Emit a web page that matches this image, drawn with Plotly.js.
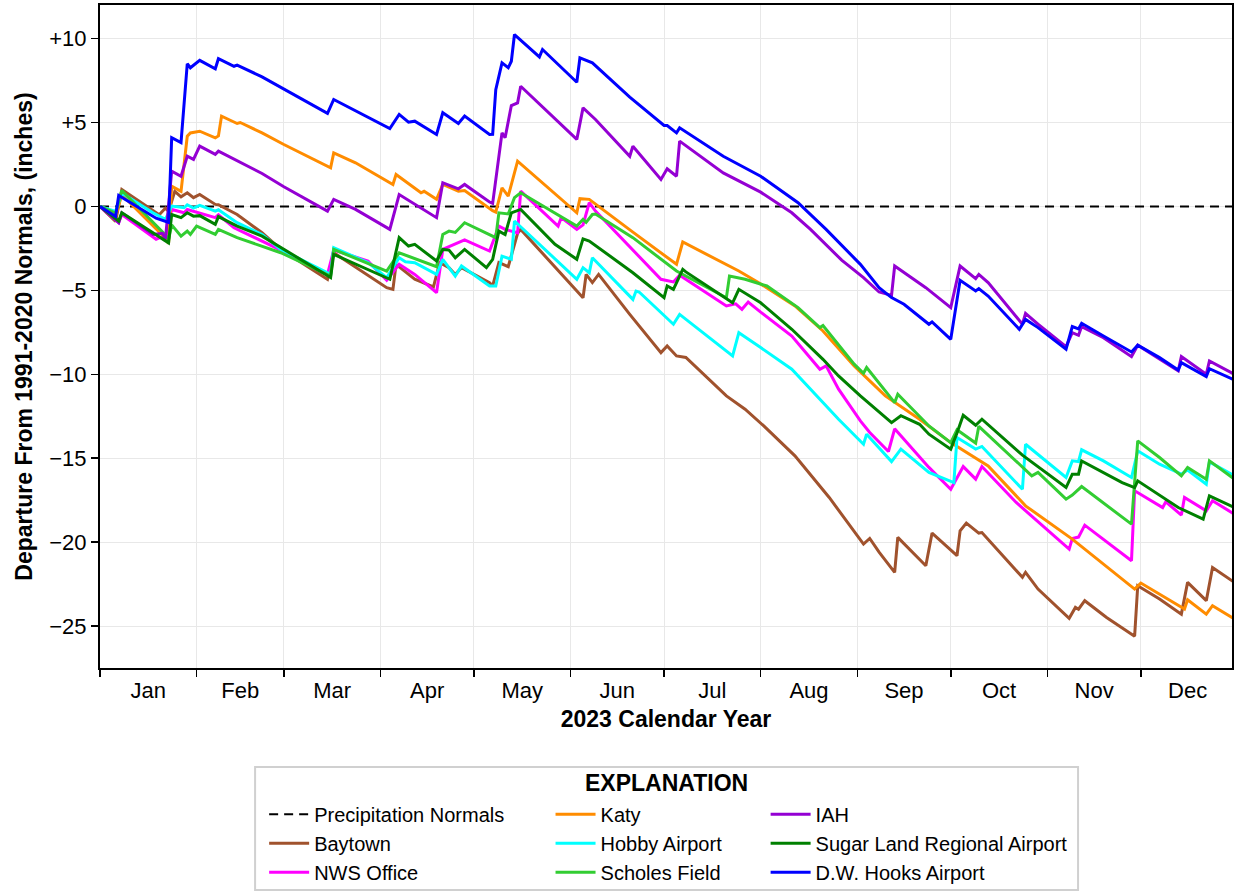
<!DOCTYPE html>
<html>
<head>
<meta charset="utf-8">
<script src="https://cdn.plot.ly/plotly-3.0.1.min.js"></script>
<style>html,body{margin:0;padding:0;background:#fff;}#chart{width:1237px;height:893px;}</style>
</head>
<body>
<div id="chart"></div>
<script>
// Day-of-year offsets (0 = Jan 1, 2023) and departures (inches)
const normalsDays = [0, 364];
const normalsVals = [0, 0];

const baytownDays = [0,5,7,19,21,22,24,26,28,30,32,37,38,44,52,58,73,75,92,94,95,101,107,109,112,114,116,125,126,128,131,134,135,155,156,158,160,170,180,182,185,188,201,207,213,223,234,245,247,250,255,256,265,267,275,276,278,282,283,296,297,301,311,313,314,316,323,332,333,340,347,349,355,357,364];
const baytownVals = [0,-0.9,1.0,-0.5,-0.1,-0.3,0.9,0.57,0.81,0.52,0.71,0.12,0.1,-0.48,-1.57,-2.56,-4.34,-2.76,-4.84,-4.94,-3.45,-4.34,-4.8,-3.35,-3.65,-4.05,-3.65,-4.54,-4.74,-3.35,-3.59,-1.6,-1.37,-5.44,-4.05,-4.54,-4.05,-6.43,-8.71,-8.31,-8.91,-9.0,-11.29,-12.08,-13.08,-14.86,-17.34,-20.12,-19.78,-20.6,-21.8,-19.72,-21.41,-19.46,-20.81,-19.33,-18.87,-19.46,-19.43,-22.1,-21.8,-22.8,-24.54,-23.89,-24.0,-23.49,-24.49,-25.61,-22.6,-23.39,-24.29,-22.4,-23.49,-21.51,-22.4];

const nwsDays = [0,6,7,18,20,21,23,27,28,37,38,43,58,73,75,86,92,96,101,108,110,117,125,128,130,134,135,147,148,153,155,157,159,170,180,184,186,201,204,206,208,212,222,231,233,237,244,247,253,255,266,273,277,281,283,294,311,312,314,316,331,332,341,342,347,348,355,357,364];
const nwsVals = [0,-0.97,-0.48,-1.96,-1.8,-2.06,-0.18,-0.38,-0.18,-0.67,-0.5,-1.27,-2.6,-4.05,-2.6,-3.25,-4.4,-3.45,-4.05,-5.14,-2.56,-2.0,-2.66,-1.17,-1.37,-1.57,0.91,-1.17,-0.67,-1.37,-1.1,0.22,-0.28,-2.4,-4.34,-4.5,-4.1,-5.93,-5.8,-6.13,-5.7,-6.3,-7.72,-9.7,-9.5,-10.89,-12.78,-13.47,-14.6,-13.25,-15.55,-16.85,-15.5,-16.25,-15.5,-17.64,-20.42,-19.78,-19.7,-18.99,-21.11,-16.94,-17.94,-17.6,-18.39,-17.34,-18.14,-17.54,-18.33];

const katyDays = [0,5,7,21,22,23,26,28,29,32,37,38,39,44,45,52,59,74,75,82,94,95,103,104,108,110,115,117,126,127,129,131,134,153,154,157,171,185,187,205,211,223,232,242,252,263,273,285,297,312,332,334,348,349,355,357,364];
const katyVals = [0,-0.6,0.7,-1.9,-2.2,1.2,0.9,4.18,4.38,4.48,4.09,4.2,5.38,4.94,5.0,4.38,3.69,2.3,3.19,2.6,1.31,1.9,0.81,0.9,0.42,1.31,0.9,0.95,-0.25,-0.34,1.11,0.61,2.7,-0.38,0.46,0.42,-1.53,-3.45,-2.12,-3.85,-4.5,-5.93,-7.42,-9.5,-11.29,-12.68,-14.07,-15.46,-17.84,-19.82,-22.8,-22.44,-23.99,-23.43,-24.29,-23.79,-24.58];

const hobbyDays = [0,5,7,17,21,23,27,28,30,32,37,38,44,52,58,74,75,86,92,96,98,101,108,110,114,116,125,127,129,132,133,153,155,157,158,171,172,173,184,186,203,205,212,222,237,245,246,250,254,257,266,274,275,281,283,296,297,310,312,314,315,322,331,333,340,347,349,355,356,364];
const hobbyVals = [0,-0.3,0.8,-0.38,-0.77,0.02,-0.08,0.1,-0.1,0.06,-0.28,-0.2,-0.97,-1.67,-2.56,-4.05,-2.46,-3.35,-4.24,-3.06,-3.3,-3.35,-4.05,-3.15,-4.15,-3.55,-4.74,-4.74,-2.96,-3.15,-0.87,-4.34,-3.65,-3.95,-3.06,-5.54,-5.04,-5.1,-7.02,-6.43,-8.91,-7.52,-8.41,-9.7,-12.68,-14.17,-13.57,-14.4,-15.2,-14.46,-15.85,-16.45,-13.77,-14.46,-14.3,-16.85,-14.17,-16.15,-15.16,-15.2,-14.5,-15.16,-16.15,-14.56,-15.36,-15.95,-15.7,-16.55,-15.22,-16.05];

const scholesDays = [0,5,7,21,22,23,26,28,29,31,37,38,44,58,74,75,92,96,108,110,112,114,117,127,128,131,133,135,153,155,156,158,159,171,185,201,202,207,214,224,231,232,242,245,246,255,256,266,273,275,281,282,299,301,310,312,315,331,333,340,347,349,355,356,364];
const scholesVals = [0,-0.4,0.95,-1.7,-1.96,-1.1,-1.77,-1.47,-1.67,-1.17,-1.67,-1.37,-1.86,-2.76,-4.15,-2.56,-3.85,-2.76,-3.59,-1.67,-1.47,-1.55,-0.97,-1.86,-0.38,-0.45,0.52,0.81,-1.17,-0.77,-0.95,-0.48,-0.45,-1.86,-3.85,-5.44,-4.15,-4.34,-4.74,-6.03,-7.22,-7.1,-9.4,-9.94,-9.6,-11.69,-11.19,-13.08,-14.07,-13.3,-14.1,-13.1,-16.05,-15.85,-17.44,-17.2,-16.69,-18.93,-13.97,-14.96,-16.05,-15.55,-16.25,-15.16,-16.25];

const iahDays = [0,6,7,17,20,21,23,26,28,30,32,37,38,44,52,59,73,75,82,93,96,108,110,115,117,125,126,129,130,132,134,135,153,155,159,170,171,180,182,185,186,200,212,222,228,238,245,250,254,255,265,273,276,281,282,285,296,297,301,310,312,314,315,322,331,333,340,346,347,355,356,364];
const iahVals = [0,-0.97,-0.38,-1.67,-1.6,-1.96,2.1,1.8,2.99,2.8,3.59,3.1,3.29,2.7,1.96,1.17,-0.28,0.42,-0.18,-1.37,0.71,-0.67,1.41,1.05,1.31,0.26,0.18,4.38,4.09,6.01,6.17,7.16,3.99,5.87,5.18,2.99,3.59,1.61,2.24,1.8,3.89,2.0,0.85,-0.38,-1.37,-3.2,-4.24,-5.1,-5.3,-3.55,-4.84,-6.03,-3.55,-4.3,-4.05,-4.54,-7.02,-6.37,-7.02,-8.35,-7.52,-7.68,-7.16,-7.82,-8.95,-8.27,-9.11,-9.8,-8.95,-10.0,-9.21,-10.0];

const sugarDays = [0,6,7,22,23,26,28,30,32,37,38,44,52,74,75,93,96,99,101,108,110,112,114,117,124,126,128,130,132,135,146,153,155,157,171,181,182,184,187,188,203,205,212,222,232,237,244,254,257,263,266,273,275,277,281,283,296,310,312,314,315,328,332,333,346,354,356,364];
const sugarVals = [0,-0.87,-0.38,-2.17,-0.48,-0.67,-0.38,-0.58,-0.55,-1.07,-0.61,-1.17,-1.77,-4.24,-2.86,-4.34,-1.86,-2.36,-2.26,-3.25,-2.56,-2.6,-3.06,-2.56,-3.65,-3.15,-1.47,-1.67,-0.38,-0.18,-2.26,-3.15,-1.93,-2.06,-3.95,-5.44,-4.74,-4.94,-3.75,-3.9,-5.74,-4.94,-5.74,-7.32,-9.11,-10.1,-11.29,-12.88,-12.47,-12.98,-13.57,-14.46,-13.5,-12.44,-13.04,-12.68,-14.82,-16.75,-15.95,-15.95,-15.16,-16.45,-16.75,-16.35,-17.94,-18.63,-17.24,-17.94];

const hooksDays = [0,5,6,18,22,23,26,28,29,32,37,38,43,44,52,59,73,75,82,93,96,99,101,108,110,115,117,125,126,127,129,131,132,133,141,142,153,154,158,170,181,182,185,186,200,212,224,233,244,250,254,258,266,267,273,276,281,282,285,295,297,301,310,312,314,315,322,331,333,340,346,347,355,356,364];
const hooksVals = [0,-0.6,0.65,-0.7,-0.95,4.1,3.8,8.5,8.26,8.7,8.2,8.8,8.35,8.42,7.72,7.0,5.54,6.37,5.71,4.64,5.48,5.02,5.08,4.29,5.58,4.94,5.38,4.29,4.3,6.96,8.55,8.26,8.65,10.24,8.91,9.35,7.4,8.85,8.55,6.51,4.82,4.82,4.38,4.68,2.99,1.8,0.22,-1.37,-3.45,-4.84,-5.43,-5.83,-7.02,-6.88,-7.92,-4.4,-5.04,-4.9,-5.34,-7.32,-6.73,-7.22,-8.51,-7.16,-7.3,-6.96,-7.72,-8.67,-8.27,-9.01,-9.74,-9.31,-10.14,-9.67,-10.34];

const yTickVals = [10, 5, 0, -5, -10, -15, -20, -25];
const yTickText = ['+10', '+5', '0', '\u22125', '\u221210', '\u221215', '\u221220', '\u221225'];

const FONT = 'Liberation Sans, Arial, sans-serif';
const toDate = d => new Date(Date.UTC(2023, 0, 1 + d)).toISOString().slice(0, 10);

function series(name, days, vals, color, legend, dash) {
  return {
    type: 'scatter', mode: 'lines', name: name,
    x: days.map(toDate), y: vals,
    line: {color: color, width: dash ? 2 : 3, dash: dash || 'solid'},
    legend: legend, hoverinfo: 'skip'
  };
}

const traces = [
  series('Precipitation Normals', normalsDays, normalsVals, '#000000', 'legend', '9px,6px'),
  series('Baytown', baytownDays, baytownVals, '#A0522D', 'legend'),
  series('NWS Office', nwsDays, nwsVals, '#FF00FF', 'legend'),
  series('Katy', katyDays, katyVals, '#FF8C00', 'legend2'),
  series('Hobby Airport', hobbyDays, hobbyVals, '#00FFFF', 'legend2'),
  series('Scholes Field', scholesDays, scholesVals, '#32CD32', 'legend2'),
  series('IAH', iahDays, iahVals, '#9400D3', 'legend3'),
  series('Sugar Land Regional Airport', sugarDays, sugarVals, '#008000', 'legend3'),
  series('D.W. Hooks Airport', hooksDays, hooksVals, '#0000FF', 'legend3')
];

const legBase = {
  orientation: 'v', xanchor: 'left', yanchor: 'top', y: -0.191,
  bgcolor: 'rgba(0,0,0,0)', borderwidth: 0, itemwidth: 40,
  font: {family: FONT, size: 20, color: '#000'}, tracegroupgap: 0
};

const layout = {
  width: 1237, height: 893,
  margin: {l: 100, r: 5, t: 5, b: 225, autoexpand: false},
  paper_bgcolor: '#fff', plot_bgcolor: '#fff',
  font: {family: FONT, size: 22, color: '#000'},
  showlegend: true,
  legend: Object.assign({}, legBase, {x: 0.145}),
  legend2: Object.assign({}, legBase, {x: 0.398}),
  legend3: Object.assign({}, legBase, {x: 0.588}),
  xaxis: {
    type: 'date', range: ['2023-01-01', '2023-12-30 06:00'], automargin: false,
    dtick: 'M1', tick0: '2023-01-01', tickformat: '%b', ticklabelmode: 'period',
    ticks: 'outside', ticklen: 7, tickwidth: 1.5, tickcolor: '#000', ticklabelstandoff: -5,
    showline: true, linecolor: '#000', linewidth: 2, mirror: true,
    showgrid: true, gridcolor: '#e8e8e8', gridwidth: 1,
    tickfont: {family: FONT, size: 22, color: '#000'},
    title: {text: '<b>2023 Calendar Year</b>', font: {family: FONT, size: 23, color: '#000'}, standoff: 8},
    fixedrange: true
  },
  yaxis: {
    range: [-27.5, 12], automargin: false,
    tickmode: 'array', tickvals: yTickVals, ticktext: yTickText,
    ticks: 'outside', ticklen: 7, tickwidth: 1.5, tickcolor: '#000',
    showline: true, linecolor: '#000', linewidth: 2, mirror: true,
    showgrid: true, gridcolor: '#e8e8e8', gridwidth: 1, zeroline: false,
    tickfont: {family: FONT, size: 22, color: '#000'},
    title: {text: '<b>Departure From 1991-2020 Normals, (inches)</b>', font: {family: FONT, size: 23, color: '#000'}, standoff: 10},
    fixedrange: true
  },
  shapes: [{
    type: 'rect', xref: 'paper', yref: 'paper',
    x0: 0.137, x1: 0.864, y0: -0.1493, y1: -0.3348,
    line: {color: '#d0d0d0', width: 2}, fillcolor: 'rgba(255,255,255,0)', layer: 'below'
  }],
  annotations: [{
    xref: 'paper', yref: 'paper', x: 0.5, y: -0.1735, xanchor: 'center', yanchor: 'middle',
    text: '<b>EXPLANATION</b>', showarrow: false,
    font: {family: FONT, size: 23, color: '#000'}
  }]
};

Plotly.newPlot('chart', traces, layout, {displayModeBar: false, staticPlot: true});
</script>
</body>
</html>
